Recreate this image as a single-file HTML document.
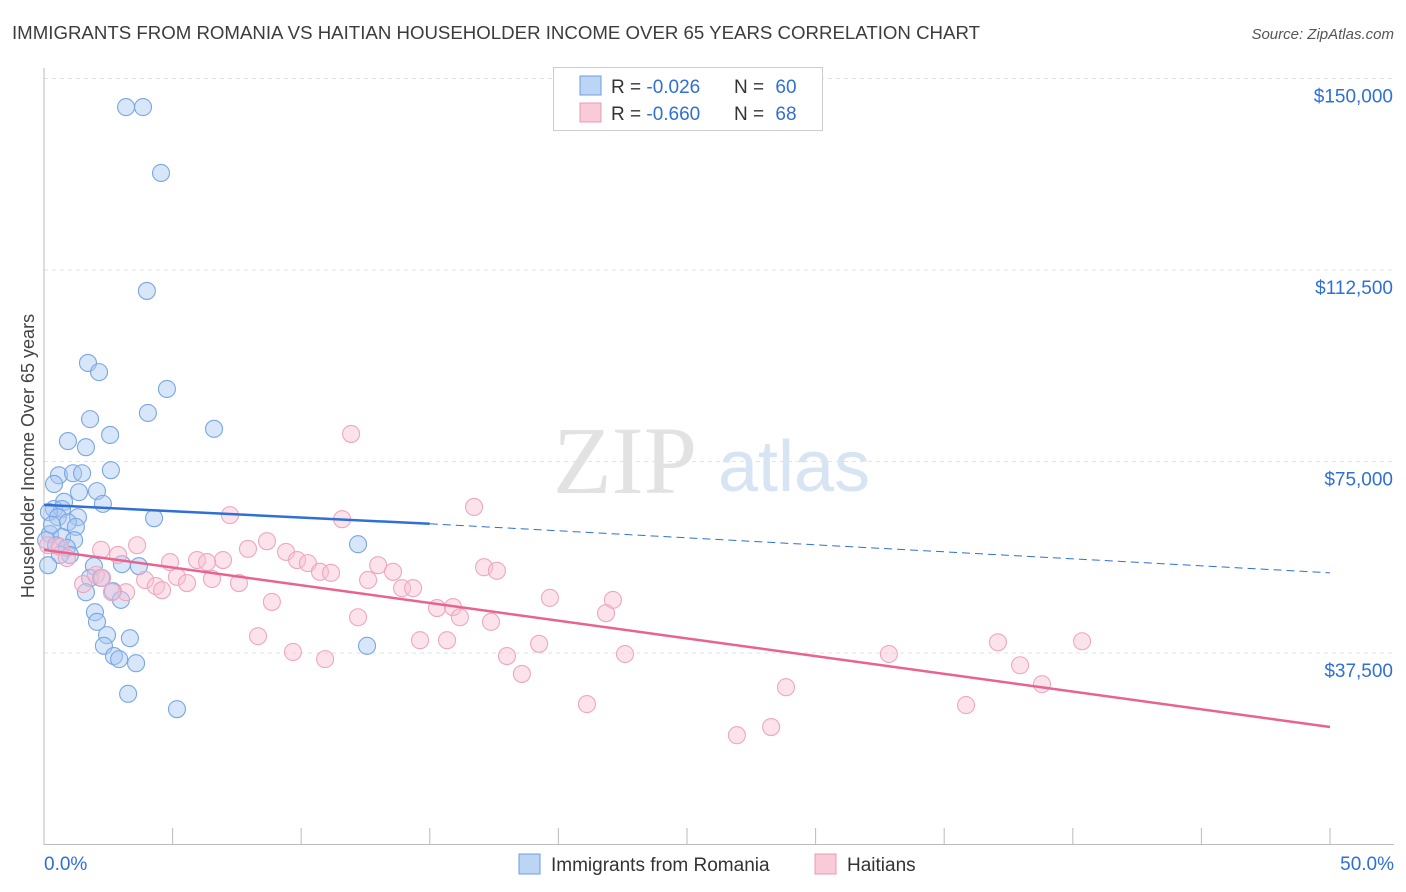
<!DOCTYPE html>
<html><head><meta charset="utf-8"><style>
body{margin:0;background:#fff;font-family:"Liberation Sans",sans-serif}
#wrap{position:relative;width:1406px;height:892px;overflow:hidden}
</style></head><body>
<div id="wrap">
<svg id="svg" width="1406" height="892" xmlns="http://www.w3.org/2000/svg">
<text x="12" y="39" font-size="18" fill="#3c3c3c" textLength="968" lengthAdjust="spacingAndGlyphs">IMMIGRANTS FROM ROMANIA VS HAITIAN HOUSEHOLDER INCOME OVER 65 YEARS CORRELATION CHART</text>
<text x="1394" y="39" font-size="15" fill="#555" font-style="italic" text-anchor="end">Source: ZipAtlas.com</text>
<text x="34" y="456" font-size="18" fill="#444" text-anchor="middle" transform="rotate(-90 34 456)">Householder Income Over 65 years</text>
<text x="553" y="493" font-size="96" fill="#e2e2e2" font-family="Liberation Serif,serif">ZIP</text>
<text x="718" y="491" font-size="72" fill="#d6e4f4">atlas</text>
<g id="grid"></g><g id="marks"></g>
<g>
<rect x="553.5" y="67.5" width="269" height="63" fill="#fff" stroke="#ccc"/>
<rect x="580" y="76" width="21" height="19" fill="#bcd5f5" stroke="#6d9de0"/>
<rect x="580" y="103" width="21" height="19" fill="#f9cbd9" stroke="#ec98b4"/>
<text x="611" y="93" font-size="19" fill="#333">R = <tspan fill="#2f6fd6">-0.026</tspan></text>
<text x="734" y="93" font-size="19" fill="#333">N = <tspan fill="#2f6fd6" dx="6">60</tspan></text>
<text x="611" y="120" font-size="19" fill="#333">R = <tspan fill="#2f6fd6">-0.660</tspan></text>
<text x="734" y="120" font-size="19" fill="#333">N = <tspan fill="#2f6fd6" dx="6">68</tspan></text>
</g>
<g>
<rect x="519" y="854" width="21" height="20" fill="#bcd5f5" stroke="#6d9de0"/>
<text x="551" y="871" font-size="19" fill="#333">Immigrants from Romania</text>
<rect x="815" y="854" width="21" height="20" fill="#f9cbd9" stroke="#ec98b4"/>
<text x="847" y="871" font-size="19" fill="#333">Haitians</text>
</g>
</svg></div>
<script>
const yTicks=[37500,75000,112500,150000];
const yTickLabels=["$37,500","$75,000","$112,500","$150,000"];
const xTickLabels=["0.0%","50.0%"];
const blueX=[3.19,3.85,4.55,4.00,1.71,2.14,4.78,4.04,1.79,6.61,0.93,2.57,1.63,0.58,1.13,1.48,2.60,0.39,2.06,1.36,0.78,2.29,0.39,0.70,0.19,0.54,4.28,1.32,0.93,1.24,0.23,0.70,1.17,0.08,12.21,3.03,1.94,3.69,1.79,2.22,1.63,2.68,2.99,1.98,2.06,2.45,3.34,2.33,2.72,2.92,3.58,12.56,3.27,5.17,0.31,0.47,0.89,1.01,0.62,0.16];
const blueY=[144400,144400,131500,108400,94300,92500,89200,84500,83300,81400,79000,80200,77800,72300,72700,72700,73300,70600,69200,69000,67100,66700,65700,65700,65100,64100,63900,64100,63100,62200,60800,60200,59600,59600,58800,54900,54500,54500,52200,52200,49400,49600,47900,45500,43600,41000,40400,38900,36900,36300,35500,38900,29500,26500,62600,58600,58100,56700,56700,54700];
const pinkX=[11.94,16.72,7.23,11.59,0.16,0.62,0.89,2.22,2.88,3.62,7.93,8.67,9.41,9.84,10.26,10.73,11.16,12.99,13.57,4.90,5.95,6.96,6.34,5.17,5.56,6.53,7.58,3.93,4.35,4.59,3.19,2.64,1.52,2.02,12.60,13.92,14.35,17.11,17.61,19.67,22.12,15.28,15.90,16.17,17.38,21.85,8.86,8.32,9.68,10.93,12.21,14.62,15.67,18.00,19.25,22.59,18.58,21.11,26.94,28.27,28.85,32.85,35.85,37.09,37.95,38.80,40.36,2.26];
const pinkY=[80400,66100,64500,63700,58600,58300,56100,57700,56700,58600,57900,59400,57300,55700,55100,53400,53200,54700,53400,55300,55700,55700,55300,52400,51200,52000,51200,51800,50600,49800,49400,49400,51000,52800,51800,50200,50200,54300,53600,48300,47900,46300,46500,44500,43600,45300,47500,40800,37700,36300,44500,40000,40000,36900,39300,37300,33400,27500,21400,23000,30800,37300,27300,39600,35100,31400,39800,52200];
const blueTrendX=[0,15,50];
const blueTrendY=[66500,62800,53200];
const pinkTrendX=[0,50];
const pinkTrendY=[57700,23000];

const sx=v=>44+v/50*1286;
const sy=v=>844.5-v/37500*191.5;
const NS="http://www.w3.org/2000/svg";
const grid=document.getElementById('grid'),marks=document.getElementById('marks');
function mk(tag,attrs,parent){const e=document.createElementNS(NS,tag);for(const k in attrs)e.setAttribute(k,attrs[k]);parent.appendChild(e);return e;}
yTicks.forEach((t,i)=>{
  const l=mk('line',{x1:44,x2:1394,y1:sy(t),y2:sy(t),stroke:'#e2e2e2','stroke-dasharray':'4,4'},grid);
  
  
  const tx=mk('text',{x:1393,y:sy(t)+24,'font-size':19,fill:'#2f6fd6','text-anchor':'end'},grid);
  tx.textContent=yTickLabels[i];
  
  
});
const ax=mk('line',{x1:44,x2:44,y1:68,y2:845,stroke:'#bbb'},grid);


const bx=mk('line',{x1:44,x2:1394,y1:844.5,y2:844.5,stroke:'#bbb'},grid);


for(let i=0;i<=10;i++){
  const t=mk('line',{x1:sx(i*5),x2:sx(i*5),y1:828,y2:845,stroke:'#bbb'},grid);
  
  
}
[[0,'start',44],[50,'end',1394]].forEach((d,i)=>{
  const t=mk('text',{x:d[2],y:870,'font-size':19,fill:'#2f6fd6','text-anchor':d[1]},grid);
  t.textContent=xTickLabels[i];
  
  
});
blueX.forEach((x,i)=>{
  const c=mk('circle',{cx:sx(x),cy:sy(blueY[i]),r:8.5,fill:'rgba(168,200,242,0.45)',stroke:'#7aa6e2','stroke-width':1.1},marks);
  
  
});
pinkX.forEach((x,i)=>{
  const c=mk('circle',{cx:sx(x),cy:sy(pinkY[i]),r:8.5,fill:'rgba(248,192,210,0.45)',stroke:'#efa6bf','stroke-width':1.1},marks);
  
  
});
const b1=mk('line',{x1:sx(blueTrendX[0]),y1:sy(blueTrendY[0]),x2:sx(blueTrendX[1]),y2:sy(blueTrendY[1]),stroke:'#2f6fd6','stroke-width':2.5},marks);


const b2=mk('line',{x1:sx(blueTrendX[1]),y1:sy(blueTrendY[1]),x2:sx(blueTrendX[2]),y2:sy(blueTrendY[2]),stroke:'#2f6fd6','stroke-width':1,'stroke-dasharray':'8,5'},marks);


const p1=mk('line',{x1:sx(pinkTrendX[0]),y1:sy(pinkTrendY[0]),x2:sx(pinkTrendX[1]),y2:sy(pinkTrendY[1]),stroke:'#e8638f','stroke-width':2.5},marks);


</script>
</body></html>
